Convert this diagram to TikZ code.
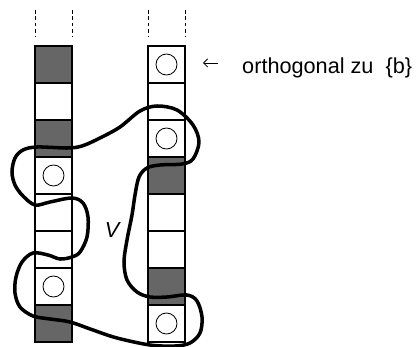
\documentclass[tikz,border=0pt]{standalone}
\usepackage{fontspec}
\setmainfont{Liberation Sans}
\usetikzlibrary{arrows.meta}

\definecolor{zellgrau}{gray}{0.4}

\tikzset{
  zelle/.style={draw, line width=0.9pt, minimum size=1.11cm, inner sep=0pt},
  voll/.style={zelle, fill=zellgrau},
  kreis/.style={draw, circle, line width=0.7pt, minimum size=0.63cm, inner sep=0pt},
  gross/.style={font=\fontsize{18.5}{21}\selectfont, inner sep=0pt}
}

\begin{document}
\begin{tikzpicture} [x=0.03cm, y=-0.03cm]
      \useasboundingbox (0,0) rectangle (419,347);

      % 点線
      \foreach \x in {35,72,148,185}
        \draw [dashed, dash pattern=on 3pt off 2.5pt, line width=0.7pt] (\x,10) -- (\x,37);

      % 左の列
      \foreach \i/\t in {1/voll, 2/zelle, 3/voll, 4/zelle, 5/zelle, 6/zelle, 7/zelle, 8/voll}
        \node [\t] (L\i) at (53.5,{46+37*(\i-0.5)}) {};
      \foreach \i in {4,7}
        \node [kreis] (kL\i) at (L\i) {};

      % 右の列
      \foreach \i/\t in {1/zelle, 2/zelle, 3/zelle, 4/voll, 5/zelle, 6/zelle, 7/voll, 8/zelle}
        \node [\t] (R\i) at (166.5,{46+37*(\i-0.5)}) {};
      \foreach \i in {1,3,8}
        \node [kreis] (kR\i) at (R\i) {};

      % 領域 V
      \draw [line width=3pt, line join=round] plot [smooth cycle, tension=0.55] coordinates {
        (12,172) (15,158) (23,150) (37,147) (67,148) (82,146) (100,138) (120,127)
        (140,111) (157,106) (177,110) (193,125) (199,142) (193,159) (182,164)
        (160,165) (147,168) (139,177) (135,195) (132,215) (127,240) (124,262)
        (127,280) (137,292) (150,297) (167,297) (187,295) (197,301) (202,317)
        (200,333) (190,343) (175,346) (150,345) (117,338) (93,330) (70,322)
        (50,319) (33,316) (20,307) (15,293) (16,277) (22,262) (33,253) (48,255)
        (60,259) (72,257) (80,252) (87,237) (88,217) (83,203) (72,198) (50,202)
        (35,205) (23,196) (15,185)};

      % 説明
      \node [gross, anchor=base] (V) at (113,238) {\textit{V}};
      \node [gross, anchor=base west] (orth) at (242,74) {orthogonal zu\ \ \{b\}};
      \coordinate (pfeilende) at (218,63);
      \coordinate (pfeilspitze) at (203,63);
      \draw [line width=0.7pt, -{Straight Barb[length=3.5pt, width=7pt]}] (pfeilende) -- (pfeilspitze);
    \end{tikzpicture}
\end{document}
